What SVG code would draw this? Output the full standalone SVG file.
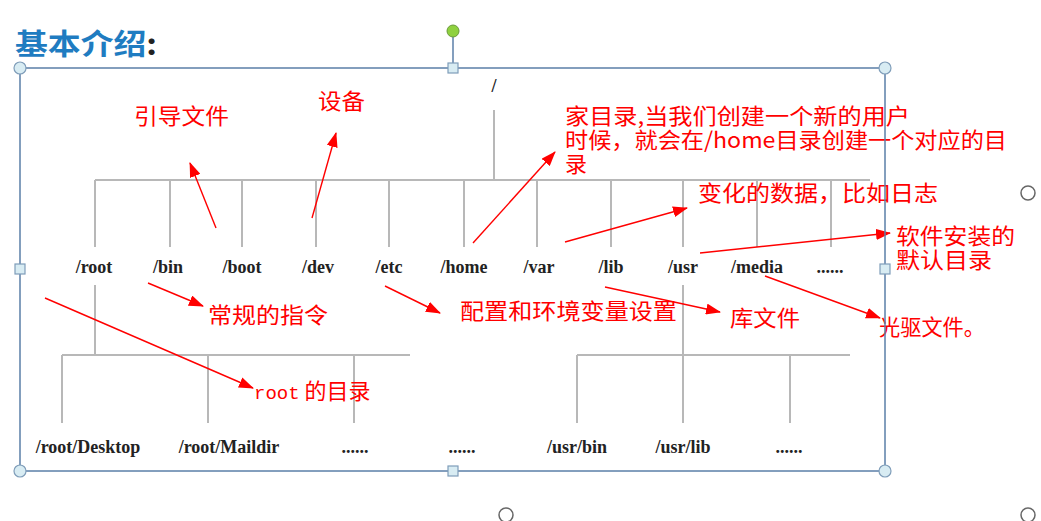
<svg xmlns="http://www.w3.org/2000/svg" width="1041" height="521" viewBox="0 0 1041 521">
<defs>
<marker id="ah" markerWidth="15" markerHeight="11" refX="14" refY="5.5" orient="auto" markerUnits="userSpaceOnUse"><path d="M0,0 L15,5.5 L0,11 z" fill="#ff0000"/></marker>
<style>
.t{stroke:#b8b8b8;stroke-width:2;fill:none}
.n{font-family:"Liberation Serif",serif;font-weight:bold;font-size:18px;fill:#222;text-anchor:middle}
.r{font-family:"Noto Sans CJK SC",sans-serif;font-size:22px;fill:#ff0000}
.a{stroke:#ff0000;stroke-width:1.4;fill:none;marker-end:url(#ah)}
.sel{stroke:#5b7fa8;stroke-width:1.5;fill:none}
.hc{fill:#d8ecf3;stroke:#7f9db9;stroke-width:1.2}
</style>
</defs>
<rect width="1041" height="521" fill="#fff"/>
<text x="15" y="55" font-family="Noto Sans CJK SC,sans-serif" font-size="29" font-weight="bold" fill="#1f7cc1" textLength="142" lengthAdjust="spacingAndGlyphs">基本介绍<tspan fill="#222">:</tspan></text>
<g id="tree">
<text x="494" y="92" class="n" font-weight="normal" fill="#777">/</text>
<path class="t" d="M494,110V180M95,180H870M95,180V247M170,180V247M242,180V247M316,180V247M389,180V247M464,180V247M537,180V247M611,180V247M683,180V247M757,180V247M831,180V247"/>
<path class="t" d="M95,285V355M62,355H410M62,355V423M208,355V423M354,355V423M683,285V355M577,355H850M577,355V423M683,355V423M790,355V423"/>
</g>
<g id="nodes">
<text class="n" x="94" y="273">/root</text><text class="n" x="168" y="273">/bin</text><text class="n" x="242" y="273">/boot</text><text class="n" x="318" y="273">/dev</text><text class="n" x="389" y="273">/etc</text><text class="n" x="464" y="273">/home</text><text class="n" x="539" y="273">/var</text><text class="n" x="611" y="273">/lib</text><text class="n" x="683" y="273">/usr</text><text class="n" x="757" y="273">/media</text><text class="n" x="830" y="273">......</text>
<text class="n" x="88" y="453">/root/Desktop</text><text class="n" x="229" y="453">/root/Maildir</text><text class="n" x="355" y="453">......</text><text class="n" x="462" y="453">......</text><text class="n" x="577" y="453">/usr/bin</text><text class="n" x="683" y="453">/usr/lib</text><text class="n" x="789" y="453">......</text>
</g>
<g id="labels" lengthAdjust="spacingAndGlyphs">
<text class="r" x="134" y="124" textLength="95" lengthAdjust="spacingAndGlyphs">引导文件</text>
<text class="r" x="318" y="109" textLength="47" lengthAdjust="spacingAndGlyphs">设备</text>
<text class="r" x="565" y="124" textLength="345" lengthAdjust="spacingAndGlyphs">家目录,当我们创建一个新的用户</text>
<text class="r" x="565" y="148" textLength="442" lengthAdjust="spacingAndGlyphs">时候，就会在/home目录创建一个对应的目</text>
<text class="r" x="565" y="172">录</text>
<text class="r" x="698" y="201" textLength="240" lengthAdjust="spacingAndGlyphs">变化的数据，比如日志</text>
<text class="r" x="896" y="244" textLength="119" lengthAdjust="spacingAndGlyphs">软件安装的</text>
<text class="r" x="896" y="268" textLength="96" lengthAdjust="spacingAndGlyphs">默认目录</text>
<text class="r" x="208" y="323" textLength="120" lengthAdjust="spacingAndGlyphs">常规的指令</text>
<text class="r" x="460" y="319" textLength="217" lengthAdjust="spacingAndGlyphs">配置和环境变量设置</text>
<text class="r" x="730" y="326" textLength="70" lengthAdjust="spacingAndGlyphs">库文件</text>
<text class="r" x="879" y="335" textLength="106" lengthAdjust="spacingAndGlyphs">光驱文件。</text>
<text class="r" x="254" y="399"><tspan font-family="Liberation Mono,monospace" font-size="19">root</tspan> 的目录</text>
</g>
<g id="connectors">
<path class="a" d="M216,228L190,163"/>
<path class="a" d="M312,218L336,133"/>
<path class="a" d="M473,243L555,152"/>
<path class="a" d="M565,242L687,208"/>
<path class="a" d="M700,253L890,233"/>
<path class="a" d="M765,276L880,318"/>
<path class="a" d="M605,287L720,312"/>
<path class="a" d="M148,283L203,306"/>
<path class="a" d="M385,286L440,313"/>
<path class="a" d="M45,298L253,388"/>
</g>
<g id="selection">
<rect class="sel" x="20" y="68" width="865" height="403"/>
<line class="sel" x1="453" y1="37" x2="453" y2="63"/>
<circle cx="453" cy="31" r="6" fill="#8fd13f" stroke="#6a9a3a"/>
<circle class="hc" cx="20" cy="68" r="6"/><circle class="hc" cx="885" cy="68" r="6"/><circle class="hc" cx="20" cy="471" r="6"/><circle class="hc" cx="885" cy="471" r="6"/>
<rect class="hc" x="448" y="63" width="10" height="10"/><rect class="hc" x="448" y="466" width="10" height="10"/><rect class="hc" x="15" y="264" width="10" height="10"/><rect class="hc" x="880" y="264" width="10" height="10"/>
<circle cx="1028" cy="193" r="7" fill="none" stroke="#666" stroke-width="1.5"/>
<circle cx="506" cy="515" r="7" fill="none" stroke="#666" stroke-width="1.5"/>
<circle cx="1028" cy="515" r="7" fill="none" stroke="#666" stroke-width="1.5"/>
</g>
</svg>
